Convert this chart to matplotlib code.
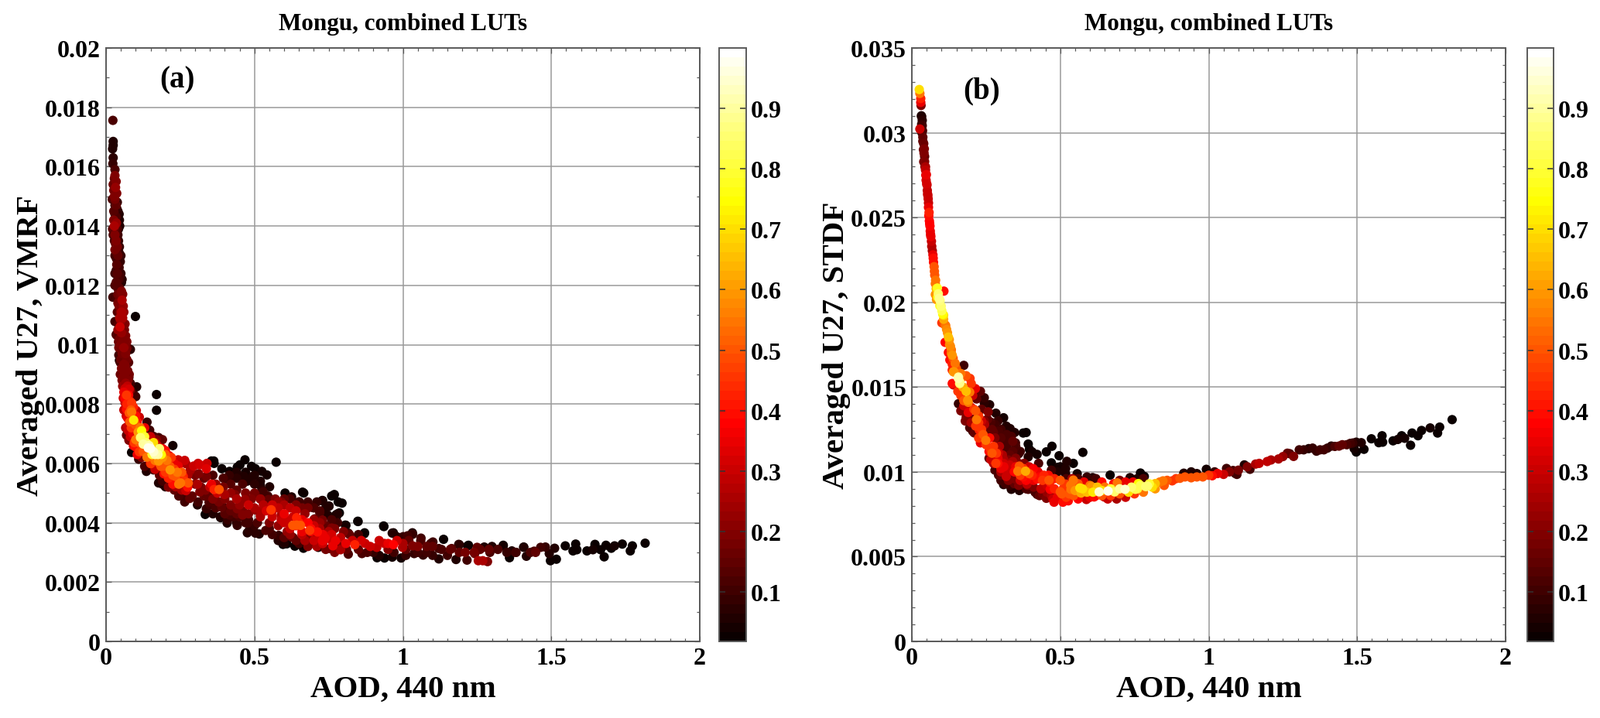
"""
plot.py

Mongu, combined LUTs: averaged U27 (VMRF and STDF) vs AOD at 440 nm,
points coloured by relative density. Saves out.png.
"""

import numpy as np
import matplotlib
matplotlib.use("Agg")
import matplotlib.pyplot as plt

plt.rcParams["font.family"] = ["Liberation Serif", "DejaVu Serif"]
plt.rcParams["font.weight"] = "bold"

# -------------------------------------------------------------------
# Data
# -------------------------------------------------------------------

aod_a = [
    .023, .024, .024, .022, .024, .023, .030, .028, .024, .026,
    .028, .021, .038, .030, .040, .030, .034, .026, .045, .032,
    .028, .042, .024, .036, .032, .045, .036, .035, .048, .040,
    .038, .050, .044, .052, .030, .040, .048, .023, .045, .050,
    .048, .099, .050, .042, .047, .030, .060, .034, .060, .056,
    .043, .069, .082, .043, .064, .045, .060, .056, .073, .056,
    .077, .060, .103, .064, .082, .069, .095, .100, .170, .170,
    .064, .086, .069, .086, .102, .073, .093, .112, .138, .073,
    .099, .108, .069, .147, .077, .095, .116, .160, .177, .125,
    .099, .225, .086, .142, .112, .173, .160, .186, .200, .212,
    .110, .138, .177, .151, .130, .136, .195, .216, .243, .269,
    .243, .295, .316, .338, .282, .160, .195, .234, .260, .177,
    .190, .200, .234, .277, .251, .260, .282, .269, .308, .316,
    .312, .338, .355, .363, .364, .390, .416, .442, .451, .468,
    .490, .503, .573, .525, .542, .494, .464, .425, .403, .355,
    .381, .364, .399, .460, .520, .551, .529, .603, .666, .625,
    .503, .434, .468, .547, .590, .651, .729, .760, .751, .694,
    .720, .747, .556, .503, .442, .390, .347, .308, .338, .334,
    .360, .386, .416, .460, .520, .590, .642, .629, .655, .608,
    .703, .738, .408, .442, .482, .477, .538, .581, .625, .677,
    .503, .476, .516, .582, .596, .609, .636, .665, .662, .769,
    .729, .782, .795, .775, .806, .848, .871, .935, .968, 1.032,
    1.001, 1.061, 1.137, 1.101, 1.188, 1.221, 1.274, 1.300, 1.338, 1.407,
    1.367, 1.447, 1.480, 1.511, 1.493, 1.497, 1.517, 1.547, 1.582, 1.573,
    1.586, 1.620, 1.647, 1.640, 1.666, 1.678, 1.684, 1.702, 1.713, 1.739,
    1.773, 1.766, 1.816, .686, .712, .738, .773, .808, .838, .873,
    .912, .968, .938, .999, 1.033, 1.016, 1.033, 1.060, .964, .981,
    1.094, 1.121, 1.164, 1.190, 1.218, 1.242, 1.254, 1.269, 1.285, 1.216,
    1.179, 1.121, 1.068, 1.038, .994, .964, .938, .913, .862, .816,
    .790, .764, .729, .703, .715, .690, .755, 1.250, 1.293, 1.338,
    1.359, 1.381, 1.416, 1.407, 1.442, 1.464, .699, .729, .751, .777,
    .786, .808, .849, .870, .936, .816, .703, .729, .760, .440,
    .480, .520, .560, .600, .640, .680, .480, .520, .560, .600,
    .600, .642, .690, .720, .760, .440, .400, .500, .550, .620,
    .660, .720, .760, .556,
    # denser part of the cloud
    .030, .034, .032, .036, .030, .034, .026, .035, .028, .038,
    .030, .040, .034, .042, .038, .030, .040, .036, .044, .040,
    .034, .046, .040, .052, .044, .054, .052, .058, .046, .056,
    .052, .046, .066, .062, .050, .064, .054, .066, .050, .064,
    .052, .068, .054, .074, .056, .072, .060, .076, .064, .080,
    .072, .092, .078, .100, .068, .080, .105, .085, .115, .075,
    .120, .090, .130, .110, .135, .112, .145, .125, .170, .155,
    .190, .165, .140, .120, .150, .205, .185, .215, .165, .200,
    .225, .240, .210, .255, .225, .245, .265, .255, .245, .275,
    .285, .265, .310, .340, .300, .330, .360, .290, .310, .330,
    .350, .375, .395, .420, .440, .475, .500, .525, .545, .420,
    .440, .470, .500, .520, .570, .620, .650, .680, .710, .400,
    .420, .450, .490, .530, .580, .620, .670, .720, .780, .370,
    .400, .430, .460, .500, .540, .590, .630, .660, .700, .740,
    .440, .470, .510, .550, .580, .620, .650, .680, .720, .770,
    .560, .600, .640, .670, .700, .730, .760, .790, .690, .730,
    .790, .830, .860, .890, .920, .950, .980, .850, .880, .950,
    1.000, 1.020, 1.050, 1.080, 1.100, 1.130, 1.160, 1.190, 1.210, 1.240,
    1.260, 1.290, 1.320, 1.350, 1.010, 1.050, 1.080, 1.150, 1.380, 1.430,
    # gaps still left in the steep part and the cloud
    .036, .044, .030, .022, .046, .034, .028, .044, .030, .050,
    .034, .046, .030, .038, .054, .036, .056, .040, .060, .038,
    .040, .064, .038, .070, .042, .060, .072, .048, .070, .076,
    .048, .062, .078, .066, .082, .058, .070, .078, .084, .060,
    .096, .066, .082, .092, .105, .100, .130, .150, .170, .190,
    .190, .165, .150, .160, .180, .175, .165, .200, .220, .230,
    .180, .200, .230, .180, .190, .210, .230, .275, .300, .265,
    .320, .335, .345, .360, .380, .370, .395, .415, .440, .470,
    .500, .520, .420, .350, .385, .410, .450, .480, .520, .560,
    .580, .600, .640, .660, .700, .740, .600, .640, .610, .660,
    .700, .750, .780, .800, .820, .850, .600, .630, .580, .650,
    .680, .710, .740, .770, .810, .900, .920, .970, 1.010, 1.100,
]
u27_a = [
    .01756, .01685, .01672, .0166, .0163, .0161, .0159, .0156, .0154, .0152,
    .0150, .0149, .0148, .0147, .0145, .0144, .0143, .0142, .0142, .0141,
    .0139, .0139, .0137, .0136, .0134, .0133, .0131, .0129, .0128, .0126,
    .0124, .0124, .0122, .0121, .0120, .0119, .0117, .0116, .0115, .0113,
    .0111, .01095, .0108, .0107, .0106, .01078, .0107, .01034, .01038, .0101,
    .0099, .00986, .00984, .00965, .00965, .00947, .00934, .00917, .00912, .0089,
    .0089, .00869, .00858, .00852, .00847, .0083, .0083, .00825, .00832, .00779,
    .00804, .00804, .00782, .00773, .00778, .00752, .00746, .00756, .00739, .00725,
    .0073, .00705, .00695, .00712, .00678, .0067, .00687, .00691, .00687, .00665,
    .00656, .0066, .00637, .00652, .00639, .0066, .00639, .0063, .00643, .00626,
    .00614, .00621, .00608, .00599, .0059, .00573, .00591, .00578, .00612, .00599,
    .00591, .00591, .00595, .00582, .00573, .00578, .00565, .00556, .00556, .00534,
    .0053, .00521, .00521, .00534, .00534, .00495, .00482, .00508, .0053, .00504,
    .00565, .00556, .00608, .00608, .006, .00582, .00573, .00587, .00595, .00612,
    .0059, .00582, .00604, .00573, .00561, .00556, .00556, .00552, .00548, .0053,
    .00512, .00512, .00495, .0053, .00526, .00521, .00504, .005, .005, .00487,
    .00495, .00495, .00478, .00478, .0047, .0047, .00474, .0049, .00456, .00452,
    .00434, .00426, .00443, .00443, .00447, .00452, .00469, .0046, .00447, .00428,
    .0043, .00417, .00426, .00426, .00426, .00426, .00417, .00391, .00391, .0041,
    .00374, .00356, .00399, .00391, .00374, .00399, .00374, .00356, .00352, .00356,
    .00365, .00366, .00362, .00357, .00327, .00329, .00321, .00314, .00503, .00495,
    .00475, .0047, .00466, .00427, .00392, .00405, .00366, .00389, .00366, .00366,
    .00353, .00348, .00344, .00335, .00327, .00324, .00318, .0032, .00324, .00318,
    .00305, .003, .00318, .00314, .00296, .00272, .00277, .00322, .00328, .00305,
    .00309, .00305, .00327, .00309, .00309, .00285, .00324, .00314, .00322, .00328,
    .00322, .00305, .00331, .00374, .00369, .00348, .00339, .0033, .00326, .0033,
    .00317, .00326, .0033, .00317, .00322, .00356, .00361, .00339, .00365, .00352,
    .0033, .00313, .00313, .00326, .00322, .00296, .00272, .00272, .00269, .00274,
    .00276, .00278, .00291, .00296, .00281, .00284, .00281, .00282, .00296, .00294,
    .00309, .00322, .00339, .00356, .00317, .0033, .00313, .00317, .003, .00322,
    .00282, .003, .00287, .00317, .00304, .00317, .00452, .00474, .00456, .00422,
    .00433, .00391, .00404, .00363, .00387, .00365, .00413, .00409, .00382, .0048,
    .0046, .0048, .0046, .0046, .0044, .0045, .0043, .0042, .0042, .0043,
    .0040, .00392, .0038, .0040, .0041, .0043, .0045, .0039, .0038, .0036,
    .0036, .0036, .0036, .00444,
    # denser part of the cloud
    .0157, .0155, .0153, .0151, .0149, .0147, .0145, .0141, .0140, .0139,
    .0137, .0137, .0135, .0135, .0133, .0132, .0130, .0127, .0126, .0122,
    .0121, .0119, .0117, .0118, .0113, .0115, .0111, .0113, .0109, .0109,
    .0104, .0102, .0103, .0105, .0100, .00995, .0097, .0097, .0095, .0093,
    .0092, .0091, .0088, .0088, .0086, .0086, .0084, .0083, .0082, .0081,
    .0079, .0079, .0077, .0076, .0076, .0074, .0074, .0072, .0072, .0071,
    .0071, .0070, .0069, .0069, .0067, .0067, .0066, .0064, .0064, .0063,
    .0062, .0061, .0062, .0062, .0060, .0061, .0059, .0059, .0058, .0057,
    .0056, .0057, .0055, .0057, .0053, .0053, .0054, .0051, .0049, .0052,
    .0058, .0061, .0060, .0060, .0056, .0055, .0056, .0049, .0047, .0049,
    .0052, .0050, .0052, .0053, .0055, .0054, .0053, .0051, .0049, .0050,
    .0051, .0050, .0050, .0048, .0048, .0048, .0047, .0047, .0047, .0048,
    .0046, .0046, .0048, .0046, .0045, .0045, .0043, .0044, .0043, .0045,
    .0043, .0042, .0044, .0045, .0044, .0041, .0042, .0041, .0041, .0039,
    .0040, .0040, .0040, .0040, .0039, .0038, .0040, .0040, .0038, .0038,
    .0036, .0035, .0034, .0034, .0034, .0033, .0034, .0035, .0037, .0036,
    .0032, .0034, .0034, .0032, .0034, .0033, .0034, .0031, .0030, .0031,
    .0033, .0034, .0032, .0032, .0032, .0031, .0031, .0030, .0030, .0030,
    .0031, .0031, .0031, .0030, .0031, .0030, .0030, .0029, .0030, .0030,
    # gaps still left in the steep part and the cloud
    .0146, .0144, .0140, .0139, .0140, .0138, .0135, .0131, .0130, .0130,
    .0125, .0123, .0124, .0120, .0122, .0116, .0117, .0114, .0111, .0111,
    .0105, .0107, .0103, .0101, .0101, .0099, .0099, .0094, .0095, .0094,
    .0090, .0090, .0090, .0087, .0087, .0082, .0080, .0085, .0078, .0078,
    .0074, .0072, .0069, .0066, .0063, .0068, .0072, .0069, .0068, .0068,
    .0065, .0067, .0065, .0067, .0065, .0063, .0063, .0063, .0062, .0060,
    .0060, .0059, .0058, .0056, .0054, .0052, .0051, .0056, .0053, .0047,
    .0052, .0051, .0049, .0048, .0047, .0053, .0055, .0056, .0057, .0057,
    .0056, .0054, .0044, .0046, .0042, .0041, .0042, .0041, .0044, .0044,
    .0047, .0048, .0046, .0045, .0045, .0045, .0041, .0039, .0037, .0037,
    .0039, .0037, .0040, .0037, .0036, .0036, .0033, .0035, .0034, .0033,
    .0032, .0032, .0031, .0030, .0031, .0030, .0029, .0030, .0029, .0029,
]
dens_a = [
    .12, .06, .05, .06, .07, .08, .12, .16, .17, .18,
    .2, .12, .08, .1, .07, .11, .12, .2, .06, .2,
    .15, .06, .12, .1, .17, .08, .14, .1, .08, .11,
    .14, .09, .11, .06, .12, .13, .18, .1, .16, .2,
    .2, .03, .22, .14, .3, .1, .15, .12, .15, .2,
    .18, .18, .07, .1, .12, .05, .2, .2, .18, .2,
    .15, .2, .06, .3, .2, .45, .1, .08, .02, .02,
    .3, .45, .4, .55, .3, .35, .72, .3, .08, .3,
    .5, .6, .15, .1, .2, .45, .85, .12, .1, .9,
    .4, .04, .03, .97, .45, .3, .95, .75, .4, .35,
    .08, .55, .6, .45, .12, .06, .5, .6, .3, .25,
    .35, .3, .32, .33, .22, .1, .4, .5, .42, .06,
    .06, .05, .25, .5, .55, .1, .15, .3, .25, .2,
    .2, .18, .03, .03, .03, .03, .03, .03, .03, .02,
    .03, .03, .02, .04, .04, .05, .06, .05, .09, .35,
    .5, .42, .25, .12, .05, .05, .1, .03, .02, .06,
    .15, .2, .22, .15, .2, .1, .05, .02, .03, .1,
    .12, .06, .45, .22, .2, .15, .12, .06, .08, .02,
    .05, .04, .12, .2, .22, .25, .42, .5, .5, .3,
    .3, .3, .06, .08, .07, .1, .12, .08, .15, .2,
    .07, .05, .06, .08, .03, .03, .02, .02, .02, .02,
    .03, .03, .03, .04, .03, .02, .03, .02, .04, .06,
    .08, .1, .03, .1, .07, .03, .05, .05, .03, .03,
    .05, .15, .08, .05, .05, .03, .03, .02, .02, .02,
    .02, .03, .03, .04, .03, .02, .03, .03, .04, .03,
    .03, .02, .02, .45, .4, .35, .35, .35, .42, .3,
    .28, .38, .3, .25, .2, .1, .08, .12, .05, .06,
    .1, .1, .14, .06, .03, .15, .25, .25, .2, .1,
    .05, .06, .08, .08, .04, .04, .02, .03, .12, .12,
    .25, .35, .35, .2, .05, .06, .15, .15, .12, .04,
    .03, .1, .05, .06, .12, .1, .05, .03, .05, .03,
    .03, .04, .02, .03, .02, .08, .15, .18, .2, .25,
    .3, .22, .3, .25, .3, .18, .2, .25, .3, .35,
    .3, .5, .4, .22, .12, .15, .1, .08, .12, .22,
    .28, .3, .32, .42,
    # denser part of the cloud
    .2, .2, .22, .2, .18, .15, .14, .22, .25, .12,
    .2, .1, .2, .08, .18, .18, .15, .14, .1, .12,
    .14, .14, .16, .2, .2, .25, .25, .22, .25, .26,
    .22, .18, .2, .18, .2, .2, .18, .2, .16, .2,
    .2, .2, .2, .2, .22, .28, .35, .38, .38, .42,
    .4, .42, .5, .4, .3, .5, .4, .45, .55, .3,
    .75, .35, .8, .5, .85, .5, .92, .5, .75, .8,
    .6, .55, .35, .2, .4, .55, .5, .5, .3, .45,
    .5, .55, .42, .5, .4, .55, .45, .25, .12, .4,
    .25, .3, .3, .3, .18, .15, .12, .15, .1, .15,
    .28, .3, .18, .14, .07, .06, .07, .07, .1, .22,
    .15, .2, .18, .18, .2, .12, .1, .1, .08, .2,
    .2, .22, .2, .27, .28, .28, .22, .12, .05, .12,
    .14, .1, .18, .25, .32, .28, .3, .35, .22, .15,
    .07, .1, .12, .2, .22, .3, .42, .38, .25, .2,
    .1, .14, .15, .25, .3, .3, .3, .28, .35, .35,
    .2, .3, .32, .3, .3, .35, .3, .15, .12, .2,
    .25, .15, .2, .15, .15, .12, .15, .15, .18, .18,
    .15, .15, .12, .08, .15, .1, .1, .1, .1, .12,
    # gaps still left in the steep part and the cloud
    .08, .06, .16, .14, .06, .12, .12, .08, .1, .08,
    .1, .1, .1, .12, .07, .12, .2, .18, .22, .14,
    .22, .2, .14, .2, .16, .22, .12, .12, .18, .14,
    .16, .2, .18, .22, .1, .3, .42, .32, .5, .28,
    .45, .25, .3, .35, .35, .55, .35, .3, .2, .15,
    .35, .3, .97, .7, .85, .9, .92, .5, .45, .35,
    .5, .45, .45, .15, .1, .2, .15, .25, .2, .1,
    .18, .2, .15, .2, .18, .22, .12, .08, .05, .04,
    .05, .05, .15, .1, .06, .08, .12, .1, .26, .3,
    .22, .15, .2, .18, .12, .06, .3, .38, .22, .35,
    .3, .25, .1, .2, .15, .1, .05, .15, .06, .1,
    .2, .25, .18, .2, .15, .08, .06, .1, .08, .08,
]

aod_b = [
    .025, .027, .030, .030, .031, .033, .035, .035, .027, .036,
    .037, .040, .042, .043, .040, .046, .049, .051, .053, .056,
    .057, .060, .064, .069, .073, .076, .080, .086, .108, .079,
    .092, .083, .099, .107, .101, .114, .123, .112, .130, .136,
    .123, .136, .175, .142, .157, .161, .136, .196, .140, .157,
    .162, .183, .140, .200, .183, .155, .214, .231, .188, .157,
    .218, .244, .244, .262, .179, .209, .235, .257, .283, .309,
    .183, .218, .244, .266, .205, .227, .318, .331, .346, .375,
    .385, .292, .249, .275, .309, .335, .231, .266, .314, .349,
    .392, .396, .472, .576, .422, .453, .405, .292, .335, .360,
    .496, .392, .266, .309, .283, .522, .544, .470, .427, .362,
    .383, .357, .409, .492, .518, .292, .318, .353, .309, .335,
    .362, .388, .392, .422, .405, .462, .518, .557, .609, .668,
    .735, .770, .757, .783, .422, .453, .479, .509, .527, .500,
    .466, .544, .518, .536, .570, .566, .605, .588, .631, .661,
    .683, .614, .648, .718, .692, .753, .788, .763, .794, .820,
    .846, .877, .903, .941, .980, 1.012, 1.050, .916, .941, .992,
    1.095, 1.082, 1.120, 1.139, 1.158, 1.197, 1.235, 1.286, 1.273, 1.305,
    1.337, 1.363, 1.388, 1.413, 1.439, 1.477, 1.497, 1.514, 1.490, 1.497,
    1.523, 1.548, 1.584, 1.573, 1.586, 1.621, 1.650, 1.637, 1.660, 1.680,
    1.685, 1.705, 1.717, 1.746, 1.778, 1.771, 1.820,
    # denser part of the curve
    .032, .033, .034, .037, .039, .041, .043, .044, .046, .047,
    .048, .050, .052, .054, .055, .056, .058, .059, .061, .062,
    .063, .066, .067, .071, .072, .075, .077, .079, .082, .089,
    .087, .095, .094, .101, .104, .107, .110, .117, .120, .126,
    .127, .133, .133, .139, .128, .146, .150, .136, .165, .172,
    .172, .195, .165, .205, .175, .165, .175, .190, .215, .225,
    .200, .195, .235, .255, .215, .235, .255, .270, .290, .300,
    .240, .262, .280, .300, .320, .340, .250, .275, .295, .320,
    .340, .365, .260, .285, .305, .330, .350, .378, .270, .290,
    .310, .330, .350, .300, .320, .345, .365, .395, .425, .445,
    .300, .325, .345, .365, .385, .410, .440, .480, .500, .330,
    .360, .385, .410, .435, .455, .480, .510, .440, .470, .490,
    .520, .545, .560, .575, .590, .610, .625, .650, .600, .640,
    .670, .700, .670, .700, .730, .740, .770, .800, .760, .810,
    .680, .640, .720, .745, .835, .860, .890, .920, .960, 1.000,
    1.030, 1.070, 1.100, 1.130, 1.170, 1.210, 1.250, 1.265, 1.320, 1.350,
    1.375, 1.400, 1.425, 1.450, 1.465, 1.485, .960, 1.020, 1.060, 1.090,
    # gaps still left in the trough
    .190, .200, .180, .190, .205, .225, .245, .210, .225, .240,
    .260, .280, .285, .300, .315, .330, .350, .325, .260, .275,
    .270, .290, .310, .325, .340, .360, .375, .395, .300, .280,
    .320, .300, .315, .345, .375, .405, .430, .460, .465, .390,
    .415, .430, .455, .475, .505, .535, .560, .580, .600, .620,
    .550, .530, .660, .640, .690, .720, .750, .780, .820, .850,
    .470, .490, .520, .540, .560, .590, .620, .700, .780, .500,
]
u27_b = [
    .03255, .03232, .03202, .03179, .03161, .03095, .03073, .03042, .03022, .03012,
    .02974, .02936, .02905, .0286, .02829, .02799, .02753, .02692, .02639, .02586,
    .0251, .02464, .02388, .02304, .02236, .02183, .0213, .02084, .02066, .02046,
    .02023, .02016, .01977, .01924, .01879, .01863, .01795, .01764, .01741, .01688,
    .01704, .01635, .01628, .0159, .01559, .01521, .01521, .01551, .0159, .01551,
    .01529, .01567, .01513, .01521, .01475, .01475, .01491, .01475, .01422, .01402,
    .0143, .01437, .01407, .01396, .01369, .01369, .01369, .01354, .01346, .01319,
    .01323, .01308, .01301, .01293, .0124, .01247, .0127, .01255, .01232, .01229,
    .01232, .0124, .01186, .01232, .01202, .01209, .01171, .01133, .01141, .01171,
    .01164, .01133, .01151, .01115, .01103, .01118, .01118, .0111, .0108, .01107,
    .01095, .01088, .01072, .0105, .0105, .01062, .0105, .01053, .0105, .01034,
    .01004, .01004, .01019, .01027, .01019, .00981, .00973, .00943, .00925, .00897,
    .0089, .00928, .00897, .00958, .00958, .00951, .00989, .00989, .00966, .00981,
    .00966, .00993, .00958, .00973, .00867, .00844, .00821, .00821, .00829, .00882,
    .00897, .00951, .00928, .00897, .00875, .00905, .00913, .00837, .00882, .00887,
    .00882, .00852, .00852, .00897, .00935, .00897, .00913, .00931, .00916, .00931,
    .00947, .00947, .00962, .00965, .0097, .00977, .00985, .00992, .01, .01015,
    .00985, .01008, .01041, .01015, .01046, .01061, .01076, .01091, .01107, .0113,
    .01137, .01122, .0113, .01152, .01152, .01168, .01175, .01172, .01137, .01117,
    .01133, .01195, .01213, .01172, .01175, .01183, .01213, .01191, .01198, .01157,
    .01229, .01213, .01244, .01259, .01264, .01229, .01308,
    # denser part of the curve
    .0310, .0305, .0300, .0295, .0290, .0288, .0283, .0280, .0278, .0275,
    .0272, .0270, .0266, .0263, .0261, .0256, .0253, .0248, .0245, .0242,
    .0240, .0236, .0233, .0228, .0226, .0221, .0216, .0211, .0208, .0205,
    .0203, .0201, .0198, .0195, .0193, .0190, .0187, .0184, .0182, .0178,
    .0175, .0172, .0170, .0167, .0166, .0164, .0161, .0160, .0158, .0156,
    .0150, .0147, .0145, .0145, .0142, .0136, .0139, .0135, .0136, .0133,
    .0129, .0126, .0130, .0131, .0127, .0125, .0125, .0125, .0130, .0125,
    .0122, .0120, .0120, .0120, .0122, .0118, .0116, .0115, .0115, .0115,
    .0112, .0112, .0112, .0111, .0110, .0110, .0108, .0105, .0108, .0105,
    .0103, .0104, .0103, .0100, .0100, .0100, .0098, .0099, .0100, .0098,
    .0098, .0095, .0096, .0095, .0095, .0095, .0095, .0096, .0095, .0092,
    .0092, .0090, .0091, .0090, .0092, .0090, .0090, .0087, .0086, .0085,
    .0085, .0086, .0084, .0090, .0088, .0088, .0091, .0091, .0085, .0086,
    .0090, .0090, .0086, .0087, .0088, .0091, .0092, .0093, .0090, .0091,
    .0093, .0094, .0094, .0094, .0094, .0095, .0096, .0097, .0097, .0098,
    .0099, .0100, .0101, .0103, .0105, .0107, .0109, .0111, .0113, .0114,
    .0113, .0114, .0115, .0116, .0116, .0117, .0099, .0100, .0102, .0099,
    # gaps still left in the trough
    .0141, .0138, .0130, .0131, .0131, .0129, .0128, .0123, .0120, .0118,
    .0128, .0128, .0123, .0118, .0118, .0120, .0115, .0125, .0108, .0105,
    .0111, .0108, .0107, .0107, .0106, .0105, .0102, .0103, .0102, .0101,
    .0097, .0095, .0093, .0093, .0097, .0098, .0097, .0098, .0094, .0092,
    .0088, .0086, .0088, .0084, .0087, .0092, .0093, .0094, .0092, .0086,
    .0089, .0087, .0084, .0089, .0084, .0085, .0087, .0088, .0090, .0092,
    .0101, .0100, .0096, .0096, .0096, .0097, .0096, .0095, .0096, .0103,
]
dens_b = [
    .7, .55, .42, .35, .2, .05, .07, .1, .3, .12,
    .15, .17, .2, .15, .18, .25, .35, .3, .3, .3,
    .4, .38, .35, .25, .4, .5, .55, .78, .4, .6,
    .88, .6, .85, .7, .45, .55, .65, .38, .58, .6,
    .4, .42, .1, .6, .9, .85, .4, .45, .6, .92,
    .88, .5, .3, .45, .65, .45, .35, .15, .6, .08,
    .15, .08, .07, .05, .2, .45, .15, .2, .06, .04,
    .2, .55, .2, .12, .08, .42, .05, .06, .05, .02,
    .02, .12, .55, .15, .12, .12, .35, .45, .12, .1,
    .03, .03, .02, .02, .04, .03, .04, .3, .12, .08,
    .03, .05, .3, .3, .45, .05, .03, .03, .12, .5,
    .62, .55, .38, .04, .05, .12, .3, .12, .05, .05,
    .06, .28, .12, .4, .35, .5, .05, .04, .05, .02,
    .06, .03, .05, .03, .12, .2, .35, .4, .4, .5,
    .38, .55, .45, .55, .62, .7, .6, .3, .95, .98,
    .85, .4, .3, .95, .55, .82, .85, .75, .85, .65,
    .55, .45, .5, .5, .5, .4, .3, .05, .06, .04,
    .1, .12, .05, .1, .25, .28, .25, .2, .12, .1,
    .06, .08, .1, .07, .15, .1, .06, .05, .04, .03,
    .03, .02, .02, .02, .02, .03, .03, .04, .04, .02,
    .03, .03, .03, .04, .03, .02, .02,
    # denser part of the curve
    .06, .08, .1, .15, .17, .2, .2, .2, .28, .33,
    .32, .32, .28, .3, .3, .35, .42, .38, .38, .35,
    .35, .3, .27, .35, .4, .5, .5, .55, .65, .85,
    .75, .87, .8, .82, .75, .62, .5, .58, .6, .6,
    .58, .55, .55, .5, .4, .55, .5, .42, .55, .5,
    .62, .55, .45, .3, .5, .2, .3, .35, .5, .45,
    .25, .12, .3, .15, .45, .45, .15, .15, .08, .1,
    .5, .4, .2, .14, .12, .15, .45, .45, .25, .12,
    .14, .1, .4, .45, .25, .15, .2, .2, .25, .4,
    .35, .3, .35, .25, .3, .38, .45, .5, .35, .42,
    .15, .2, .2, .3, .38, .35, .45, .42, .5, .08,
    .2, .12, .2, .28, .3, .42, .45, .18, .25, .35,
    .45, .5, .38, .7, .65, .72, .65, .55, .35, .5,
    .8, .9, .45, .5, .7, .85, .82, .8, .8, .7,
    .4, .4, .35, .35, .55, .5, .45, .5, .5, .45,
    .35, .2, .18, .2, .28, .25, .22, .15, .08, .08,
    .1, .08, .12, .15, .12, .08, .06, .08, .1, .08,
    # gaps still left in the trough
    .55, .3, .2, .15, .2, .45, .25, .15, .45, .35,
    .12, .1, .12, .12, .12, .12, .12, .06, .15, .25,
    .5, .35, .25, .2, .25, .2, .45, .3, .35, .12,
    .2, .1, .1, .15, .4, .42, .38, .4, .42, .2,
    .12, .15, .22, .3, .5, .55, .5, .35, .55, .4,
    .6, .5, .3, .7, .25, .3, .45, .55, .6, .5,
    .1, .06, .12, .25, .12, .08, .1, .2, .12, .04,
]

x_ticks = [0, 0.5, 1, 1.5, 2]
y_ticks_a = [0, 0.002, 0.004, 0.006, 0.008, 0.01, 0.012, 0.014, 0.016, 0.018, 0.02]
y_ticks_b = [0, 0.005, 0.01, 0.015, 0.02, 0.025, 0.03, 0.035]
cbar_ticks = [0.1, 0.2, 0.3, 0.4, 0.5, 0.6, 0.7, 0.8, 0.9]

W, H = 2067, 929
FRAME = "#5a5a5a"
GRID = "#9a9a9a"


def add_axes_px(fig, left, right, top, bottom):
    return fig.add_axes([left / W, 1 - bottom / H, (right - left) / W, (bottom - top) / H])


def draw_panel(fig, box, cbar_box, aod, u27, dens, y_ticks, y_minor, y_label,
               tag, tag_pos):
    ax = add_axes_px(fig, *box)
    aod, u27, dens = np.array(aod), np.array(u27), np.array(dens)
    order = np.argsort(dens)
    sc = ax.scatter(aod[order], u27[order], c=dens[order], s=76, linewidths=0,
                    cmap=plt.get_cmap("hot", 64), vmin=0.018, vmax=1, zorder=3)

    ax.set_xlim(0, 2)
    ax.set_ylim(y_ticks[0], y_ticks[-1])
    ax.set_xticks(x_ticks)
    ax.set_xticklabels([f"{t:g}" for t in x_ticks])
    ax.set_yticks(y_ticks)
    ax.set_yticklabels([f"{t:g}" for t in y_ticks])
    ax.set_xticks(np.arange(0, 2.001, 0.05), minor=True)
    ax.set_yticks(np.arange(0, y_ticks[-1] + 1e-6, y_minor), minor=True)
    ax.tick_params(which="major", direction="in", top=True, right=True, length=5,
                   width=0.9, color=FRAME, labelsize=23, pad=5)
    ax.tick_params(which="minor", direction="in", top=True, right=True, length=3,
                   width=0.9, color=FRAME)
    ax.grid(True, which="major", color=GRID, linewidth=1.1, zorder=1)
    ax.set_axisbelow(True)
    for spine in ax.spines.values():
        spine.set_color(FRAME)
        spine.set_linewidth(1.4)

    ax.set_title("Mongu, combined LUTs", fontsize=22.4, fontweight="bold", pad=17)
    ax.set_xlabel("AOD, 440 nm", fontsize=29.5, fontweight="bold")
    ax.xaxis.set_label_coords(0.5, -0.056)
    ax.set_ylabel(y_label, fontsize=29.5, fontweight="bold")
    ax.yaxis.set_label_coords(-0.103, 0.5)
    ax.text(tag_pos[0], tag_pos[1], tag, transform=ax.transAxes, fontsize=28,
            fontweight="bold", ha="center", va="center")

    cax = add_axes_px(fig, *cbar_box)
    cbar = fig.colorbar(sc, cax=cax, ticks=cbar_ticks)
    cbar.ax.set_yticklabels([f"{t:g}" for t in cbar_ticks])
    cbar.ax.tick_params(direction="in", left=True, right=True, length=6, width=1.1,
                        color="#333333", labelsize=23, pad=4)
    cbar.outline.set_edgecolor(FRAME)
    cbar.outline.set_linewidth(1.4)


fig = plt.figure(figsize=(W / 100, H / 100), dpi=100)

draw_panel(fig, (137, 904, 63, 830), (929, 964, 63, 830), aod_a, u27_a, dens_a,
           y_ticks_a, 0.001, "Averaged U27, VMRF", "(a)", (0.12, 0.947))
draw_panel(fig, (1178, 1945, 63, 830), (1973, 2007, 63, 830), aod_b, u27_b, dens_b,
           y_ticks_b, 0.001, "Averaged U27, STDF", "(b)", (0.117, 0.928))

fig.savefig("out.png", dpi=100)
plt.close(fig)
